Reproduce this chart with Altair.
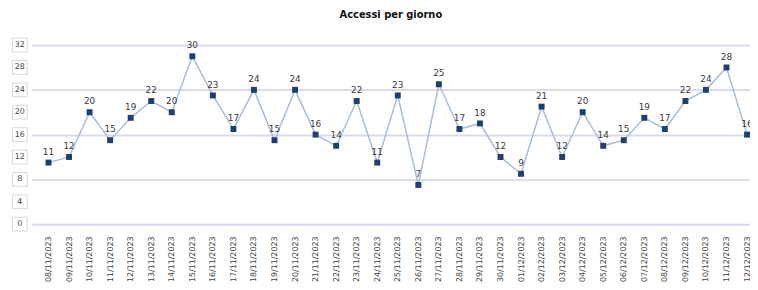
import altair as alt
import pandas as pd

dates = ["08/11/2023", "09/11/2023", "10/11/2023", "11/11/2023", "12/11/2023",
         "13/11/2023", "14/11/2023", "15/11/2023", "16/11/2023", "17/11/2023",
         "18/11/2023", "19/11/2023", "20/11/2023", "21/11/2023", "22/11/2023",
         "23/11/2023", "24/11/2023", "25/11/2023", "26/11/2023", "27/11/2023",
         "28/11/2023", "29/11/2023", "30/11/2023", "01/12/2023", "02/12/2023",
         "03/12/2023", "04/12/2023", "05/12/2023", "06/12/2023", "07/12/2023",
         "08/12/2023", "09/12/2023", "10/12/2023", "11/12/2023", "12/12/2023"]
accessi = [11, 12, 20, 15, 19, 22, 20, 30, 23, 17, 24, 15, 24, 16, 14, 22, 11,
           23, 7, 25, 17, 18, 12, 9, 21, 12, 20, 14, 15, 19, 17, 22, 24, 28, 16]
y_ticks = [0, 4, 8, 12, 16, 20, 24, 28, 32]

df = pd.DataFrame({"data": dates, "accessi": accessi})
ticks_df = pd.DataFrame({"v": y_ticks})

x_enc = alt.X("data:N", sort=dates, title=None,
              scale=alt.Scale(type="point", padding=0.48, align=0.85),
              axis=alt.Axis(labelAngle=-90, labelFontSize=8, labelColor="#444",
                            labelFont="DejaVu Sans", ticks=False, domain=False,
                            labelPadding=12, grid=False))
y_scale = alt.Scale(domain=[0, 32], nice=False)
y_enc = alt.Y("accessi:Q", scale=y_scale, title=None,
              axis=alt.Axis(values=y_ticks, labels=False, ticks=False, domain=False,
                            grid=True, gridColor="#dadaee", gridWidth=2))

line = alt.Chart(df).mark_line(color="#a6bcd8", strokeWidth=1.5).encode(x=x_enc, y=y_enc)
pts = alt.Chart(df).mark_point(shape="square", filled=True, size=36, color="#1e3f6f",
                               opacity=1).encode(x=x_enc, y=alt.Y("accessi:Q", scale=y_scale))
labels = alt.Chart(df).mark_text(dy=-11, fontSize=9, color="#3a3a3a",
                                 font="DejaVu Sans").encode(
    x=x_enc, y=alt.Y("accessi:Q", scale=y_scale), text="accessi:Q")

boxes = alt.Chart(ticks_df).mark_point(
    shape="M-1,-0.93L1,-0.93L1,0.93L-1,0.93Z", filled=True, fill="white",
    stroke="#d9d9d9", strokeWidth=1, size=225, opacity=1
).encode(x=alt.value(-12), y=alt.Y("v:Q", scale=y_scale))
box_text = alt.Chart(ticks_df).mark_text(fontSize=8, color="#444",
                                         font="DejaVu Sans").encode(
    x=alt.value(-12), y=alt.Y("v:Q", scale=y_scale), text="v:Q")

chart = alt.layer(line, pts, labels, boxes, box_text).properties(
    width=726, height=181,
    title=alt.TitleParams("Accessi per giorno", fontSize=10, fontWeight="bold",
                          font="DejaVu Sans", color="#111", anchor="middle", offset=16),
    autosize=alt.AutoSizeParams(type="none"),
    padding={"left": 24, "top": 36, "right": 0, "bottom": 57},
).configure_view(stroke=None)

chart.save("out.html", embed_options={"renderer": "svg", "actions": False})
